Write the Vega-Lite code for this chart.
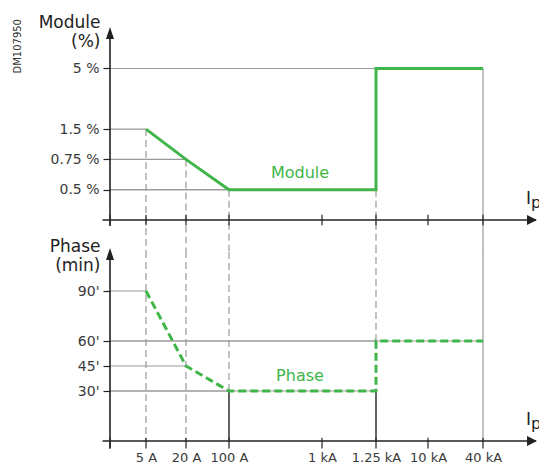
{
  "$schema": "https://vega.github.io/schema/vega-lite/v6.json",
  "padding": {"left": 13, "top": 13, "right": 0, "bottom": 0},
  "title": {"text": "DM107950", "orient": "left", "anchor": "end", "fontSize": 10, "fontWeight": "normal", "font": "DejaVu Sans", "color": "#333", "offset": 15, "dx": -6},
  "config": {"view": {"stroke": null}, "font": "DejaVu Sans", "axis": {"grid": false, "domain": false}},
  "datasets": {
    "module": [
      {"i": 1, "current": "5 A", "pos": 3.6, "pct": 1.5, "lev": 3},
      {"i": 2, "current": "20 A", "pos": 7.6, "pct": 0.75, "lev": 2},
      {"i": 3, "current": "100 A", "pos": 11.9, "pct": 0.5, "lev": 1},
      {"i": 4, "current": "1.25 kA", "pos": 26.6, "pct": 0.5, "lev": 1},
      {"i": 5, "current": "1.25 kA", "pos": 26.6, "pct": 5, "lev": 5},
      {"i": 6, "current": "40 kA", "pos": 37.3, "pct": 5, "lev": 5}
    ],
    "phase": [
      {"i": 1, "current": "5 A", "pos": 3.6, "min": 90},
      {"i": 2, "current": "20 A", "pos": 7.6, "min": 45},
      {"i": 3, "current": "100 A", "pos": 11.9, "min": 30},
      {"i": 4, "current": "1.25 kA", "pos": 26.6, "min": 30},
      {"i": 5, "current": "1.25 kA", "pos": 26.6, "min": 60},
      {"i": 6, "current": "40 kA", "pos": 37.3, "min": 60}
    ],
    "ticks": [
      {"pos": 0, "label": ""},
      {"pos": 3.6, "label": "5 A"},
      {"pos": 7.6, "label": "20 A"},
      {"pos": 11.9, "label": "100 A"},
      {"pos": 21.2, "label": "1 kA"},
      {"pos": 26.6, "label": "1.25 kA"},
      {"pos": 31.8, "label": "10 kA"},
      {"pos": 37.3, "label": "40 kA"}
    ],
    "one": [{"n": 1}]
  },
  "spacing": 31,
  "bounds": "flush",
  "vconcat": [
    {
      "width": 429,
      "height": 190,
      "layer": [
        {"data": {"name": "module"}, "mark": {"type": "rule", "color": "#999", "strokeWidth": 1.2},
          "encoding": {
            "x": {"field": "pos", "type": "quantitative", "scale": {"domain": [0, 42.9], "nice": false, "zero": false}, "axis": null},
            "x2": {"datum": 0},
            "y": {"field": "lev", "type": "quantitative", "scale": {"domain": [0, 6.27], "nice": false, "zero": false},
              "axis": {"values": [1, 2, 3, 5], "labelExpr": "['0.5 %','0.75 %','1.5 %','','5 %'][datum.value-1]", "tickSize": 7, "tickColor": "#222", "tickWidth": 1.2, "labelPadding": 4, "labelFontSize": 14, "labelColor": "#3a3a3a", "title": ["Module", "(%)"], "titleAngle": 0, "titleAlign": "right", "titleBaseline": "alphabetic", "titleX": -10, "titleY": -3, "titleFontSize": 17, "titleFontWeight": "normal", "titleColor": "#222", "titleLineHeight": 19}}}},
        {"data": {"name": "module"}, "transform": [{"filter": "datum.pos < 37 && datum.lev < 4"}], "mark": {"type": "rule", "color": "#999", "strokeWidth": 1.2, "strokeDash": [7, 4]},
          "encoding": {"x": {"field": "pos", "type": "quantitative", "axis": null}, "y": {"field": "lev", "type": "quantitative"}, "y2": {"datum": -1.03}}},
        {"data": {"name": "module"}, "transform": [{"filter": "datum.pos > 37"}], "mark": {"type": "rule", "color": "#999", "strokeWidth": 1.2},
          "encoding": {"x": {"field": "pos", "type": "quantitative", "axis": null}, "y": {"field": "lev", "type": "quantitative"}, "y2": {"datum": -1.03}}},
        {"data": {"name": "ticks"}, "mark": {"type": "rule", "color": "#222", "strokeWidth": 1.2},
          "encoding": {"x": {"field": "pos", "type": "quantitative", "axis": null}, "y": {"datum": -0.17, "type": "quantitative"}, "y2": {"datum": 0.17}}},
        {"data": {"name": "one"}, "mark": {"type": "rule", "color": "#222", "strokeWidth": 1.6},
          "encoding": {"x": {"datum": -0.75, "type": "quantitative", "axis": null}, "x2": {"datum": 42.6}, "y": {"datum": 0, "type": "quantitative"}}},
        {"data": {"name": "one"}, "mark": {"type": "rule", "color": "#222", "strokeWidth": 1.6},
          "encoding": {"x": {"datum": 0, "type": "quantitative", "axis": null}, "y": {"datum": -0.2, "type": "quantitative"}, "y2": {"datum": 6.1}}},
        {"data": {"name": "one"}, "mark": {"type": "point", "shape": "M0,-0.5L0.67,1.5L-0.67,1.5Z", "filled": true, "color": "#222", "size": 144, "opacity": 1},
          "encoding": {"x": {"datum": 0, "type": "quantitative", "axis": null}, "y": {"datum": 6.27, "type": "quantitative"}}},
        {"data": {"name": "one"}, "mark": {"type": "point", "shape": "M0,0L-2,-1L-2,1Z", "filled": true, "color": "#222", "size": 100, "opacity": 1},
          "encoding": {"x": {"datum": 42.7, "type": "quantitative", "axis": null}, "y": {"datum": 0, "type": "quantitative"}}},
        {"data": {"name": "module"}, "mark": {"type": "line", "color": "#40b549", "strokeWidth": 3},
          "encoding": {"x": {"field": "pos", "type": "quantitative", "axis": null}, "y": {"field": "lev", "type": "quantitative"}, "order": {"field": "i"}}},
        {"data": {"name": "one"}, "mark": {"type": "text", "text": "Module", "color": "#40b549", "fontSize": 16, "align": "center", "baseline": "middle"},
          "encoding": {"x": {"datum": 19.0, "type": "quantitative", "axis": null}, "y": {"datum": 1.55, "type": "quantitative"}}},
        {"data": {"name": "one"}, "mark": {"type": "text", "text": "I", "color": "#222", "fontSize": 17, "align": "left", "baseline": "alphabetic", "dy": -16},
          "encoding": {"x": {"datum": 41.6, "type": "quantitative", "axis": null}, "y": {"datum": 0, "type": "quantitative"}}},
        {"data": {"name": "one"}, "mark": {"type": "text", "text": "p", "color": "#222", "fontSize": 16, "align": "left", "baseline": "alphabetic", "dy": -12},
          "encoding": {"x": {"datum": 42.1, "type": "quantitative", "axis": null}, "y": {"datum": 0, "type": "quantitative"}}}
      ]
    },
    {
      "width": 429,
      "height": 190,
      "layer": [
        {"data": {"name": "phase"}, "mark": {"type": "rule", "color": "#999", "strokeWidth": 1.2},
          "encoding": {
            "x": {"field": "pos", "type": "quantitative", "scale": {"domain": [0, 42.9], "nice": false, "zero": false},
              "axis": {"values": [3.6, 7.6, 11.9, 21.2, 26.6, 31.8, 37.3], "labelExpr": "['5 A','20 A','100 A','1 kA','1.25 kA','10 kA','40 kA'][indexof([3.6,7.6,11.9,21.2,26.6,31.8,37.3], datum.value)]", "ticks": false, "labelPadding": 10, "labelFontSize": 13, "labelColor": "#3a3a3a", "labelFlush": false, "labelOverlap": false, "title": null}},
            "x2": {"datum": 0},
            "y": {"field": "min", "type": "quantitative", "scale": {"domain": [0, 114], "nice": false, "zero": false},
              "axis": {"values": [30, 45, 60, 90], "labelExpr": "datum.value + \"'\"", "tickSize": 7, "tickColor": "#222", "tickWidth": 1.2, "labelPadding": 4, "labelFontSize": 14, "labelColor": "#3a3a3a", "title": ["Phase", "(min)"], "titleAngle": 0, "titleAlign": "right", "titleBaseline": "alphabetic", "titleX": -10, "titleY": 0, "titleFontSize": 17, "titleFontWeight": "normal", "titleColor": "#222", "titleLineHeight": 19}}}},
        {"data": {"name": "phase"}, "transform": [{"filter": "datum.pos < 10"}], "mark": {"type": "rule", "color": "#999", "strokeWidth": 1.2, "strokeDash": [7, 4]},
          "encoding": {"x": {"field": "pos", "type": "quantitative"}, "y": {"datum": 114, "type": "quantitative"}, "y2": {"datum": 0}}},
        {"data": {"name": "phase"}, "transform": [{"filter": "datum.i == 3 || datum.i == 5"}], "mark": {"type": "rule", "color": "#999", "strokeWidth": 1.2, "strokeDash": [7, 4]},
          "encoding": {"x": {"field": "pos", "type": "quantitative"}, "y": {"field": "min", "type": "quantitative"}, "y2": {"datum": 114}}},
        {"data": {"name": "phase"}, "transform": [{"filter": "datum.pos > 37"}], "mark": {"type": "rule", "color": "#999", "strokeWidth": 1.2},
          "encoding": {"x": {"field": "pos", "type": "quantitative"}, "y": {"datum": 114, "type": "quantitative"}, "y2": {"datum": 0}}},
        {"data": {"name": "phase"}, "transform": [{"filter": "datum.min == 30"}], "mark": {"type": "rule", "color": "#222", "strokeWidth": 1.4},
          "encoding": {"x": {"field": "pos", "type": "quantitative"}, "y": {"field": "min", "type": "quantitative"}, "y2": {"datum": 0}}},
        {"data": {"name": "ticks"}, "mark": {"type": "rule", "color": "#222", "strokeWidth": 1.2},
          "encoding": {"x": {"field": "pos", "type": "quantitative"}, "y": {"datum": -4.5, "type": "quantitative"}, "y2": {"datum": 2}}},
        {"data": {"name": "one"}, "mark": {"type": "rule", "color": "#222", "strokeWidth": 1.6},
          "encoding": {"x": {"datum": -0.75, "type": "quantitative"}, "x2": {"datum": 42.6}, "y": {"datum": 0, "type": "quantitative"}}},
        {"data": {"name": "one"}, "mark": {"type": "rule", "color": "#222", "strokeWidth": 1.6},
          "encoding": {"x": {"datum": 0, "type": "quantitative"}, "y": {"datum": -4.5, "type": "quantitative"}, "y2": {"datum": 110}}},
        {"data": {"name": "one"}, "mark": {"type": "point", "shape": "M0,-0.5L0.67,1.5L-0.67,1.5Z", "filled": true, "color": "#222", "size": 144, "opacity": 1},
          "encoding": {"x": {"datum": 0, "type": "quantitative"}, "y": {"datum": 114, "type": "quantitative"}}},
        {"data": {"name": "one"}, "mark": {"type": "point", "shape": "M0,0L-2,-1L-2,1Z", "filled": true, "color": "#222", "size": 100, "opacity": 1},
          "encoding": {"x": {"datum": 42.7, "type": "quantitative"}, "y": {"datum": 0, "type": "quantitative"}}},
        {"data": {"name": "phase"}, "mark": {"type": "line", "color": "#40b549", "strokeWidth": 3, "strokeDash": [8, 4]},
          "encoding": {"x": {"field": "pos", "type": "quantitative"}, "y": {"field": "min", "type": "quantitative"}, "order": {"field": "i"}}},
        {"data": {"name": "one"}, "mark": {"type": "text", "text": "Phase", "color": "#40b549", "fontSize": 16, "align": "center", "baseline": "middle"},
          "encoding": {"x": {"datum": 19.0, "type": "quantitative"}, "y": {"datum": 39, "type": "quantitative"}}},
        {"data": {"name": "one"}, "mark": {"type": "text", "text": "I", "color": "#222", "fontSize": 17, "align": "left", "baseline": "alphabetic", "dy": -16},
          "encoding": {"x": {"datum": 41.6, "type": "quantitative"}, "y": {"datum": 0, "type": "quantitative"}}},
        {"data": {"name": "one"}, "mark": {"type": "text", "text": "p", "color": "#222", "fontSize": 16, "align": "left", "baseline": "alphabetic", "dy": -12},
          "encoding": {"x": {"datum": 42.1, "type": "quantitative"}, "y": {"datum": 0, "type": "quantitative"}}}
      ]
    }
  ]
}
